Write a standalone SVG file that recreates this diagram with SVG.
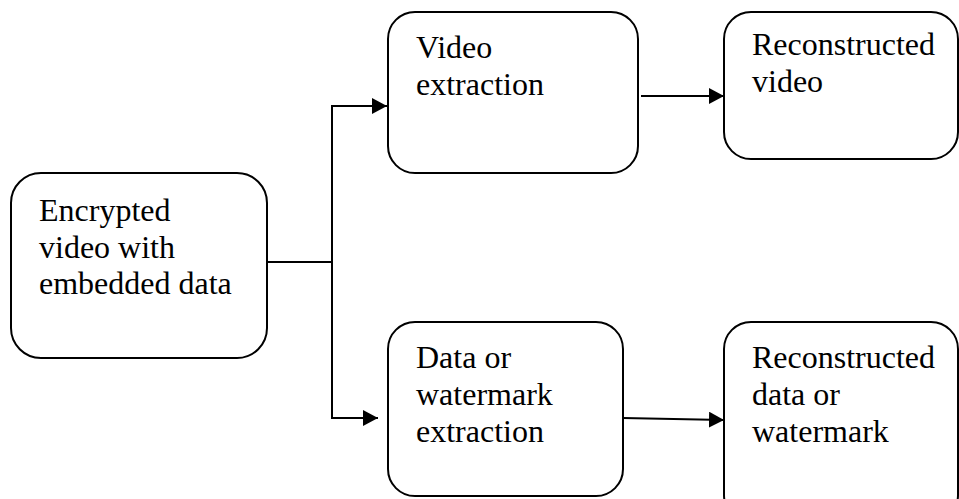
<svg xmlns="http://www.w3.org/2000/svg" width="959" height="499" viewBox="0 0 959 499">
<style>
.box{fill:#fff;stroke:#000;stroke-width:2}
.lbl{font-family:"Liberation Serif","Times New Roman",serif;font-size:32px;fill:#000}
.edge{fill:none;stroke:#000;stroke-width:2}
</style>
<defs>
<marker id="ah" markerUnits="userSpaceOnUse" markerWidth="16" markerHeight="16" refX="15" refY="8" orient="auto">
<path d="M0,0 L15,8 L0,16 Z" fill="#000"/>
</marker>
</defs>
<rect width="959" height="499" fill="#fff"/>
<g id="connectors">
<path class="edge" d="M267,262 H332 V106 H387" marker-end="url(#ah)"/>
<path class="edge" d="M332,262 V418 H378" marker-end="url(#ah)"/>
<path class="edge" d="M641,96 H724" marker-end="url(#ah)"/>
<path class="edge" d="M623,418 L724,420" marker-end="url(#ah)"/>
</g>
<g id="n-encrypted">
<rect class="box" x="11" y="173" width="256" height="185" rx="30" ry="30"/>
<text class="lbl"><tspan x="39" y="221">Encrypted</tspan><tspan x="39" y="258">video with</tspan><tspan x="39" y="294">embedded data</tspan></text>
</g>
<g id="n-video-extraction">
<rect class="box" x="388" y="12" width="250" height="161" rx="27" ry="27"/>
<text class="lbl"><tspan x="416" y="58">Video</tspan><tspan x="416" y="95">extraction</tspan></text>
</g>
<g id="n-reconstructed-video">
<rect class="box" x="724" y="12" width="234" height="147" rx="27" ry="27"/>
<text class="lbl"><tspan x="752" y="55">Reconstructed</tspan><tspan x="752" y="92">video</tspan></text>
</g>
<g id="n-data-extraction">
<rect class="box" x="388" y="322" width="235" height="174" rx="27" ry="27"/>
<text class="lbl"><tspan x="416" y="368">Data or</tspan><tspan x="416" y="405">watermark</tspan><tspan x="416" y="442">extraction</tspan></text>
</g>
<g id="n-reconstructed-data">
<rect class="box" x="724" y="322" width="234" height="200" rx="27" ry="27"/>
<text class="lbl"><tspan x="752" y="368">Reconstructed</tspan><tspan x="752" y="405">data or</tspan><tspan x="752" y="442">watermark</tspan></text>
</g>
</svg>
